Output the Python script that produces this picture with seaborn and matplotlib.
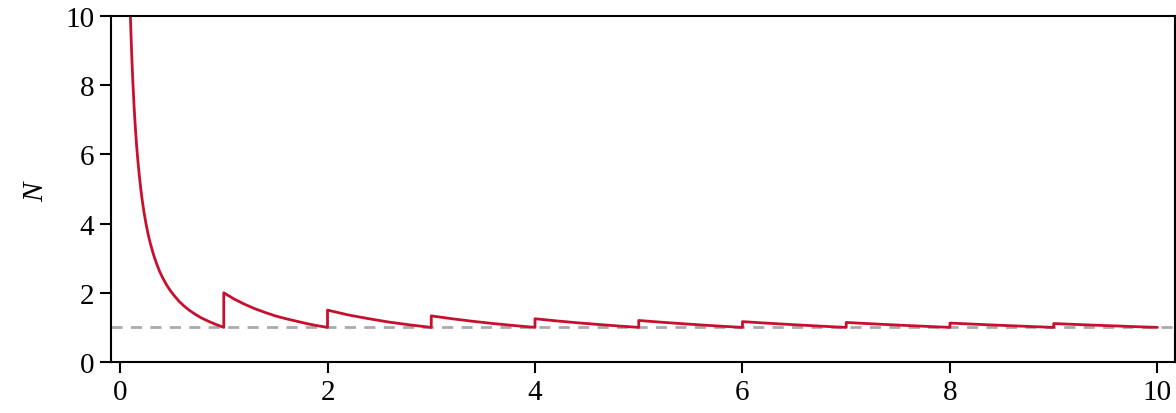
import numpy as np
import pandas as pd
import matplotlib
matplotlib.use("Agg")
import matplotlib.pyplot as plt
import seaborn as sns

# first branch, from x=0.1 down to the first jump
first_x = [0.1, 0.105, 0.11, 0.115, 0.12, 0.125, 0.135, 0.142, 0.15, 0.16,
           0.17, 0.185, 0.2, 0.215, 0.23, 0.25, 0.27, 0.29, 0.32, 0.35, 0.38,
           0.41, 0.45, 0.49, 0.53, 0.57, 0.62, 0.67, 0.72, 0.78, 0.85, 0.92, 1.0]
first_n = [10.0, 9.52, 9.09, 8.70, 8.33, 8.0, 7.41, 7.04, 6.67, 6.25,
           5.88, 5.41, 5.0, 4.65, 4.35, 4.0, 3.70, 3.45, 3.13, 2.86, 2.63,
           2.44, 2.22, 2.04, 1.89, 1.75, 1.61, 1.49, 1.39, 1.28, 1.18, 1.09, 1.0]

# second branch (1 -> 2), sampled more finely
seg1_offsets = [0.0, 0.1, 0.2, 0.3, 0.4, 0.5, 0.6, 0.7, 0.8, 0.9, 1.0]
seg1_n = [2.0, 1.82, 1.67, 1.54, 1.43, 1.33, 1.25, 1.18, 1.11, 1.05, 1.0]

# later branches, starting at 2, 3, ..., 9
seg_starts = [2, 3, 4, 5, 6, 7, 8, 9]
seg_offsets = [0.0, 0.2, 0.4, 0.6, 0.8, 1.0]
seg_n = [
    [1.5, 1.36, 1.25, 1.15, 1.07, 1.0],
    [1.333, 1.25, 1.176, 1.111, 1.053, 1.0],
    [1.25, 1.19, 1.136, 1.087, 1.042, 1.0],
    [1.2, 1.154, 1.111, 1.071, 1.034, 1.0],
    [1.167, 1.129, 1.094, 1.061, 1.029, 1.0],
    [1.143, 1.111, 1.081, 1.053, 1.026, 1.0],
    [1.125, 1.098, 1.071, 1.047, 1.023, 1.0],
    [1.111, 1.087, 1.064, 1.042, 1.020, 1.0],
]

baseline = 1.0
x_ticks = [0, 2, 4, 6, 8, 10]
y_ticks = [0, 2, 4, 6, 8, 10]

xs = list(first_x) + [1 + o for o in seg1_offsets]
ns = list(first_n) + list(seg1_n)
for start, vals in zip(seg_starts, seg_n):
    xs += [start + o for o in seg_offsets]
    ns += vals
df = pd.DataFrame({"x": xs, "N": ns})

sns.set_style("ticks", {"axes.edgecolor": "black", "xtick.color": "black",
                        "ytick.color": "black", "text.color": "black",
                        "axes.labelcolor": "black"})
plt.rcParams["font.family"] = ["Liberation Serif", "DejaVu Serif"]
plt.rcParams["mathtext.fontset"] = "custom"
plt.rcParams["mathtext.it"] = "Liberation Serif:italic"

fig = plt.figure(figsize=(11.76, 4.14), dpi=100)
ax = fig.add_axes([0.0944, 0.1232, 0.9048, 0.8357])

ax.axhline(baseline, color="#aaaaaa", lw=2.0, ls=(0, (4, 3)), zorder=1)
sns.lineplot(data=df, x="x", y="N", sort=False, estimator=None,
             color="#c8102e", lw=2.0, ax=ax, zorder=2)

ax.set_xlim(-0.087, 10.17)
ax.set_ylim(0, 10)
ax.set_xticks(x_ticks)
ax.set_yticks(y_ticks)
ax.set_xlabel("")
ax.set_ylabel("$N$", fontsize=21, labelpad=12)
ax.tick_params(labelsize=21, length=8, width=1.5, direction="out", pad=4)
for sp in ax.spines.values():
    sp.set_linewidth(1.5)
    sp.set_visible(True)

fig.savefig("out.png", dpi=100)
